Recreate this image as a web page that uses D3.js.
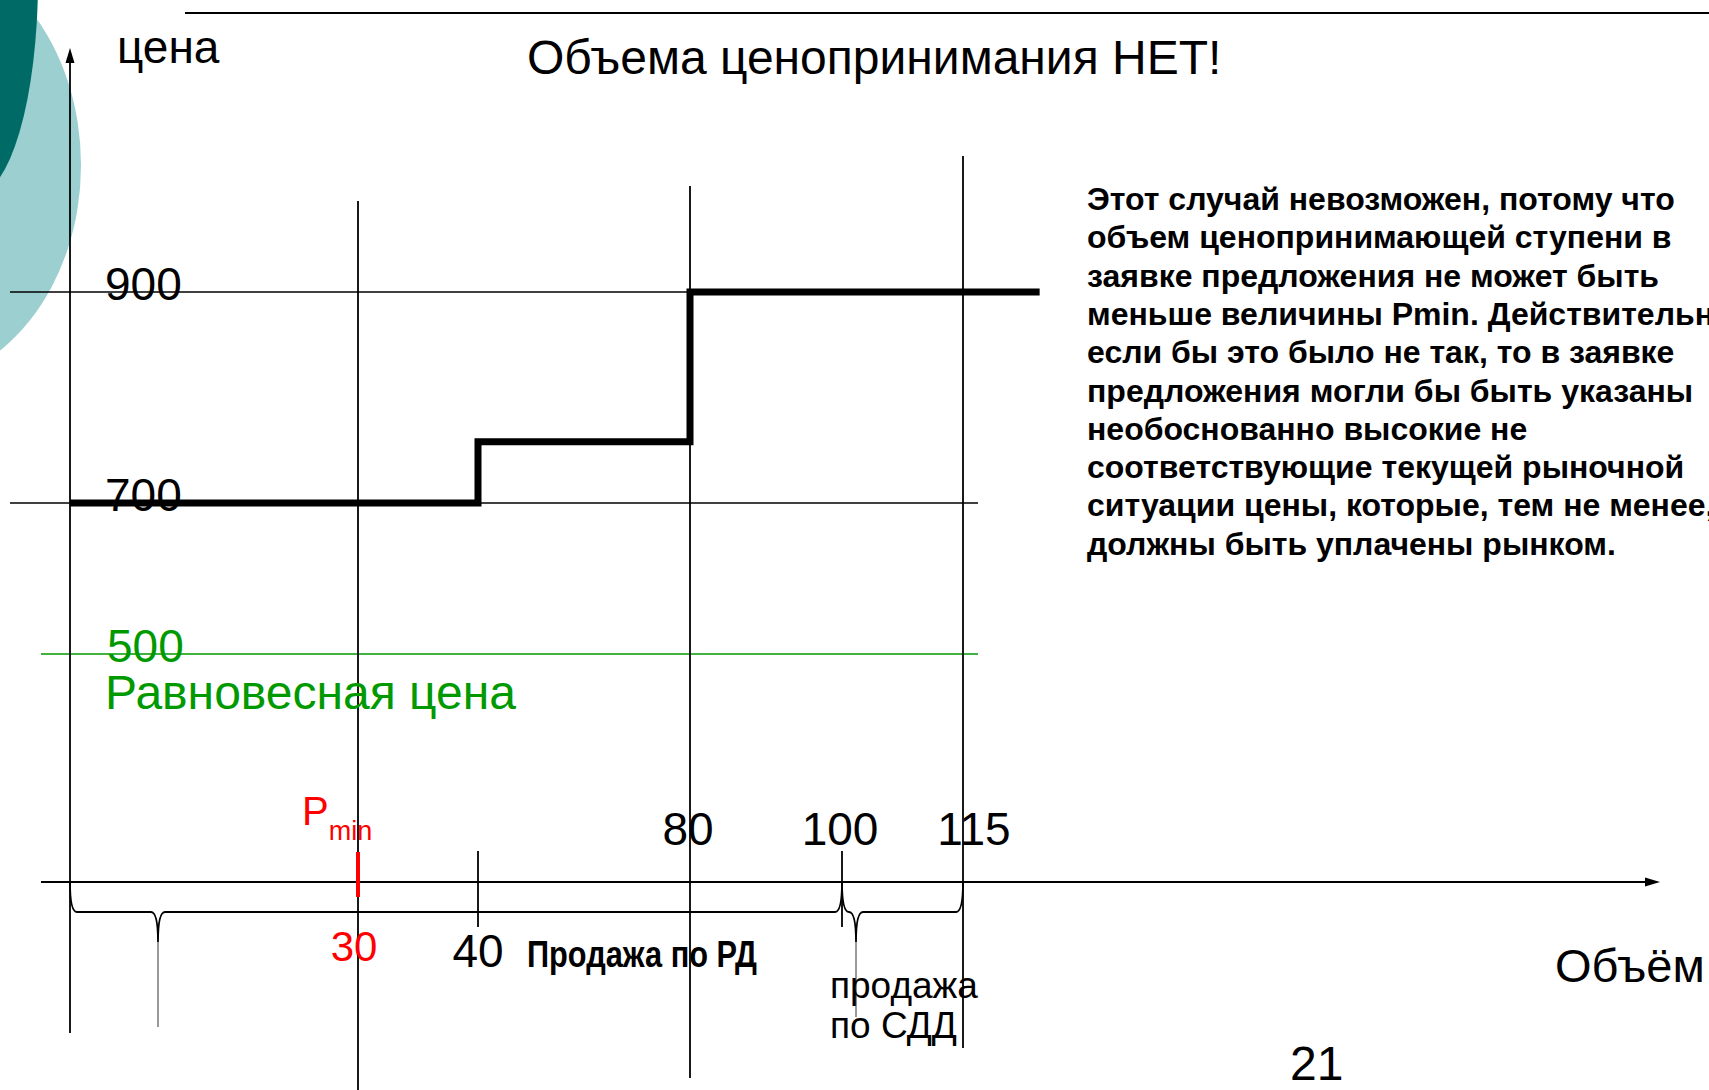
<!DOCTYPE html>
<html lang="ru">
<head>
<meta charset="utf-8">
<script src="https://cdn.jsdelivr.net/npm/d3@7"></script>
<style>
  body { margin: 0; background: #fff; }
  svg { display: block; font-family: "Liberation Sans", Arial, sans-serif; }
</style>
</head>
<body>
<script>
// values
const volumeMarks = [30, 40, 80, 100, 115];
const priceMarks = [900, 700];
const equilibriumPrice = 500;
const pminVolume = 30;
// offer curve: [volume, price] where each step starts
const offerSteps = [[0, 700], [40, 758], [80, 900], [124.5, 900]];
// braces under the volume axis: [from, to]
const braces = [[0, 100], [100, 115]];
const noteLines = [
  "Этот случай невозможен, потому что",
  "объем ценопринимающей ступени в",
  "заявке предложения не может быть",
  "меньше величины Pmin. Действительно,",
  "если бы это было не так, то в заявке",
  "предложения могли бы быть указаны",
  "необоснованно высокие не",
  "соответствующие текущей рыночной",
  "ситуации цены, которые, тем не менее,",
  "должны быть уплачены рынком."
];

const W = 1709, H = 1090;
const green = "#009900", red = "#ff0000";

// the slide is a sketch, so both scales are piecewise
const x = d3.scaleLinear()
    .domain([0, ...volumeMarks])
    .range([70, 358, 478, 690, 842, 963]);
const y = d3.scaleLinear()
    .domain([equilibriumPrice, ...priceMarks.slice().reverse()])
    .range([654, 503, 292]);

const svg = d3.select("body").append("svg")
    .attr("width", W)
    .attr("height", H);

// template decoration top-left
svg.append("ellipse")
    .attr("cx", -94).attr("cy", 165).attr("rx", 175).attr("ry", 220)
    .attr("fill", "#9ccfd0");
svg.append("ellipse")
    .attr("cx", -25).attr("cy", -20).attr("rx", 63).attr("ry", 215)
    .attr("fill", "#006b66");
svg.append("line")
    .attr("x1", 185).attr("x2", W).attr("y1", 13).attr("y2", 13)
    .attr("stroke", "#000").attr("stroke-width", 2);

// horizontal price guides
svg.selectAll("line.price")
  .data(priceMarks)
  .enter().append("line")
    .attr("class", "price")
    .attr("x1", 10).attr("x2", 978)
    .attr("y1", d => y(d)).attr("y2", d => y(d))
    .attr("stroke", "#000").attr("stroke-width", 1.5);

svg.append("line")
    .attr("x1", 41).attr("x2", 978)
    .attr("y1", y(equilibriumPrice)).attr("y2", y(equilibriumPrice))
    .attr("stroke", green).attr("stroke-width", 1.5);

// vertical volume guides (long ones) and short ticks
const guideExtent = {30: [201, 1090], 80: [186, 1078], 115: [156, 1048]};
const axisY = 882;
svg.selectAll("line.vol")
  .data(volumeMarks)
  .enter().append("line")
    .attr("class", "vol")
    .attr("x1", d => x(d)).attr("x2", d => x(d))
    .attr("y1", d => guideExtent[d] ? guideExtent[d][0] : 851)
    .attr("y2", d => guideExtent[d] ? guideExtent[d][1] : 927)
    .attr("stroke", "#000").attr("stroke-width", 1.8);

// axes with arrows
svg.append("line")
    .attr("x1", x(0)).attr("x2", x(0)).attr("y1", 1033).attr("y2", 60)
    .attr("stroke", "#000").attr("stroke-width", 1.8);
svg.append("path")
    .attr("d", `M${x(0)},48 L${x(0) - 4.5},63 L${x(0) + 4.5},63 Z`)
    .attr("fill", "#000");
svg.append("line")
    .attr("x1", 41).attr("x2", 1648).attr("y1", axisY).attr("y2", axisY)
    .attr("stroke", "#000").attr("stroke-width", 1.8);
svg.append("path")
    .attr("d", `M1660,${axisY} L1645,${axisY - 4.5} L1645,${axisY + 4.5} Z`)
    .attr("fill", "#000");

// braces
const tipOffset = [88, 14], tailEnd = [1027, 1017];
braces.forEach(([a, b], i) => {
  const x0 = x(a), x1 = x(b), t = x0 + tipOffset[i], yb = 912;
  svg.append("path")
      .attr("d", `M${x0},${axisY} Q${x0},${yb} ${x0 + 7},${yb} H${t - 7} Q${t},${yb} ${t},${yb + 30}` +
                 ` M${t},${yb + 30} Q${t},${yb} ${t + 7},${yb} H${x1 - 7} Q${x1},${yb} ${x1},${axisY}`)
      .attr("fill", "none").attr("stroke", "#000").attr("stroke-width", 1.8);
  svg.append("line")
      .attr("x1", t).attr("x2", t).attr("y1", yb + 30).attr("y2", tailEnd[i])
      .attr("stroke", "#000").attr("stroke-width", 0.8);
});

// offer step curve
svg.append("path")
    .datum(offerSteps)
    .attr("fill", "none")
    .attr("stroke", "#000")
    .attr("stroke-width", 7)
    .attr("d", d3.line().x(d => x(d[0])).y(d => y(d[1])).curve(d3.curveStepAfter));

// Pmin marker
svg.append("line")
    .attr("x1", x(pminVolume)).attr("x2", x(pminVolume)).attr("y1", 852).attr("y2", 897)
    .attr("stroke", red).attr("stroke-width", 4);
const pm = svg.append("text")
    .attr("x", 302).attr("y", 825)
    .attr("fill", red).attr("font-size", 40);
pm.append("tspan").text("P");
pm.append("tspan").attr("font-size", 27).attr("dy", 15).text("min");

// price labels
svg.selectAll("text.price")
  .data(priceMarks)
  .enter().append("text")
    .attr("x", 105).attr("y", d => y(d) + 8)
    .attr("font-size", 46)
    .text(d => d);
svg.append("text")
    .attr("x", 107).attr("y", y(equilibriumPrice) + 8)
    .attr("font-size", 46).attr("fill", green)
    .text(equilibriumPrice);
svg.append("text")
    .attr("x", 105).attr("y", 709)
    .attr("font-size", 48).attr("fill", green)
    .text("Равновесная цена");

// volume labels
const volLabel = {
  30: {dx: -4, y: 961, size: 42, color: red},
  40: {dx: 0, y: 967, size: 46, color: "#000"},
  80: {dx: -2, y: 845, size: 46, color: "#000"},
  100: {dx: -2, y: 845, size: 46, color: "#000"},
  115: {dx: 11, y: 845, size: 46, color: "#000"}
};
svg.selectAll("text.vol")
  .data(volumeMarks)
  .enter().append("text")
    .attr("x", d => x(d) + volLabel[d].dx)
    .attr("y", d => volLabel[d].y)
    .attr("text-anchor", "middle")
    .attr("font-size", d => volLabel[d].size)
    .attr("fill", d => volLabel[d].color)
    .text(d => d);

// texts
svg.append("text").attr("x", 117).attr("y", 63).attr("font-size", 46).text("цена");
svg.append("text").attr("x", 527).attr("y", 74).attr("font-size", 48).text("Объема ценопринимания НЕТ!");
svg.append("text").attr("x", 1555).attr("y", 982).attr("font-size", 47).text("Объём");
svg.append("text").attr("x", 1290).attr("y", 1080).attr("font-size", 48).text("21");
svg.append("text")
    .attr("x", 527).attr("y", 967)
    .attr("font-size", 36).attr("font-weight", "bold")
    .attr("textLength", 230).attr("lengthAdjust", "spacingAndGlyphs")
    .text("Продажа по РД");
svg.append("text").attr("x", 830).attr("y", 998).attr("font-size", 37).text("продажа");
svg.append("text").attr("x", 830).attr("y", 1038).attr("font-size", 37).text("по СДД");

svg.append("g")
  .selectAll("text")
  .data(noteLines)
  .enter().append("text")
    .attr("x", 1087)
    .attr("y", (d, i) => 210 + i * 38.3)
    .attr("font-size", 32)
    .attr("font-weight", "bold")
    .text(d => d);
</script>
</body>
</html>
